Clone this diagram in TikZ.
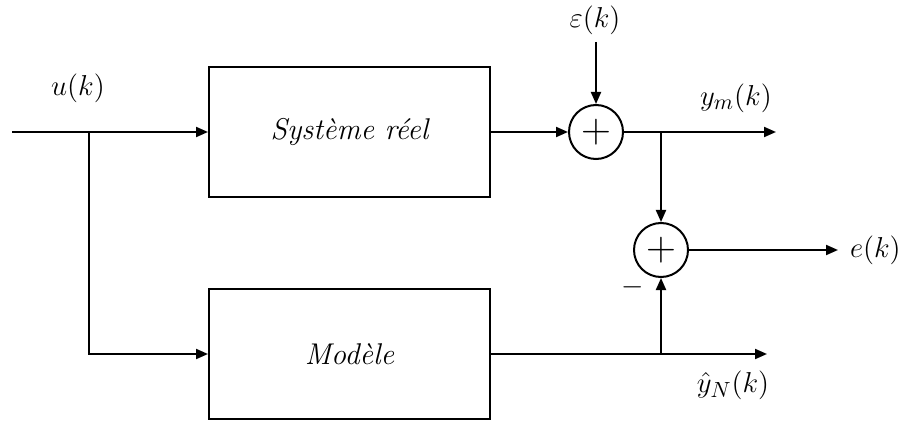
\documentclass[tikz,border=0pt]{standalone}
\usetikzlibrary{arrows.meta}
\begin{document}
\begin{tikzpicture}[x=0.5pt,y=-0.5pt,
  line width=1pt,
  sig/.style={-{Triangle[length=6pt,width=5pt]}},
  blk/.style={draw, minimum width=140.5pt, minimum height=65pt, inner sep=0pt, font=\fontsize{15}{18}\selectfont\itshape},
  sumnode/.style={draw, circle, minimum size=27pt, inner sep=0pt, font=\fontsize{20}{22}\selectfont},
  lbl/.style={font=\fontsize{15.5}{18}\selectfont, inner sep=0pt}]
\useasboundingbox (0,0) rectangle (904,422);
% blocks
\node[blk] (sys) at (349.5,132) {Système réel};
\node[blk] (mod) at (349.5,354) {Modèle};
\node[sumnode] (s1) at (596,132) {$+$};
\node[sumnode] (s2) at (661,250) {$+$};
% labels
\node[lbl] (ul) at (78,88) {$u(k)$};
\node[lbl] (epsl) at (595,20) {$\varepsilon(k)$};
\node[lbl] (yml) at (736,98) {$y_m(k)$};
\node[lbl] (yhl) at (733,385) {$\hat{y}_N(k)$};
\node[lbl,anchor=west] (el) at (849,250) {$e(k)$};
\node[lbl] (minus) at (633,287) {$-$};
% coordinates
\coordinate (in) at (12,132);
\coordinate (j1) at (89,132);
\coordinate (etop) at (596,42);
\coordinate (j2) at (661,132);
\coordinate (ym) at (776,132);
\coordinate (ek) at (838,250);
\coordinate (j3) at (661,354);
\coordinate (yh) at (767,354);
% connectors
\draw[sig] (in) -- (sys.west);
\draw[sig] (j1) |- (mod.west);
\draw[sig] (sys.east) -- (s1.west);
\draw[sig] (etop) -- (s1.north);
\draw[sig] (s1.east) -- (ym);
\draw[sig] (j2) -- (s2.north);
\draw[sig] (s2.east) -- (ek);
\draw[sig] (mod.east) -- (yh);
\draw[sig] (j3) -- (s2.south);
\end{tikzpicture}
\end{document}
